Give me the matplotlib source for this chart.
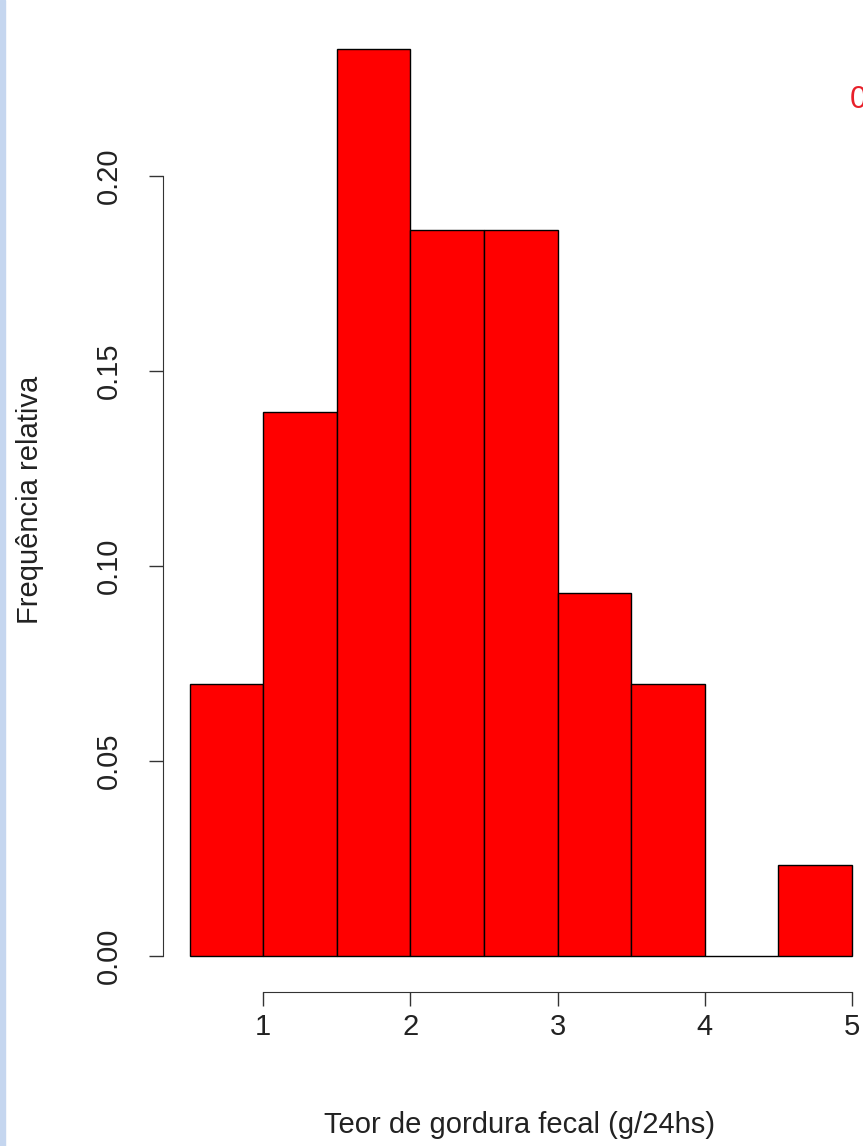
import matplotlib.pyplot as plt
import numpy as np

plt.rcParams['font.family'] = ['Liberation Sans', 'DejaVu Sans']

edges = [0.5, 1.0, 1.5, 2.0, 2.5, 3.0, 3.5, 4.0, 4.5, 5.0]
counts = [3, 6, 10, 8, 8, 4, 3, 0, 1]
n = 43
rel = [c / n for c in counts]

W, H = 863, 1146
fig = plt.figure(figsize=(W / 100, H / 100), dpi=100)
fig.patches.append(plt.Rectangle((0, 0), 5 / W, 1, transform=fig.transFigure,
                                 color='#c5d6ef', zorder=0))
ax = fig.add_axes([163 / W, (H - 992) / H, (878.5 - 163) / W, (992 - 12.6) / H])
ax.bar(edges[:-1], rel, width=0.5, align='edge', color='#ff0000',
       edgecolor='black', linewidth=1.0)
ax.set_xlim(0.32, 5.18)
ax.set_ylim(-0.0093, 0.2419)
for s in ['top', 'right']:
    ax.spines[s].set_visible(False)
ax.spines['left'].set_bounds(0, 0.2)
ax.spines['bottom'].set_bounds(1, 5)
for s in ['left', 'bottom']:
    ax.spines[s].set_color('#333333')
ax.set_xticks([1, 2, 3, 4, 5])
ax.set_yticks([0, 0.05, 0.10, 0.15, 0.20])
ax.set_yticklabels(['0.00', '0.05', '0.10', '0.15', '0.20'], rotation=90, va='center')
ax.tick_params(length=10, width=1, labelsize=21, color='#333333', labelcolor='#222222')
ax.tick_params(axis='y', pad=19)
ax.tick_params(axis='x', pad=5)
ax.patch.set_visible(False)
fig.text(520 / W, 1 - 1125 / H, 'Teor de gordura fecal (g/24hs)', fontsize=21,
         ha='center', va='center', color='#222222')
fig.text(30 / W, 1 - 500 / H, 'Frequência relativa', fontsize=21, rotation=90,
         ha='center', va='center', color='#222222')
fig.text(850 / W, 1 - 100 / H, '0', color='#e8202a', fontsize=22, va='center')
fig.savefig('out.png', dpi=100)
